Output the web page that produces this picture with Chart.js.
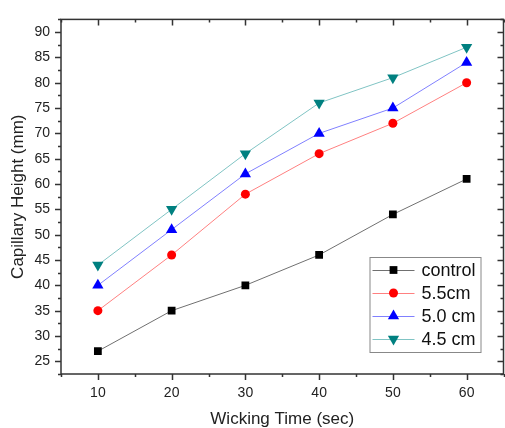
<!DOCTYPE html>
<html>
<head>
<meta charset="utf-8">
<script src="https://cdn.jsdelivr.net/npm/chart.js@4"></script>
<style>
  html, body { margin: 0; padding: 0; background: #fff; overflow: hidden; }
  #wrap { width: 510px; height: 428px; }
</style>
</head>
<body>
<div id="wrap"><canvas id="chart" width="510" height="428"></canvas></div>
<script>
// wicking time (sec)
const times = [10, 20, 30, 40, 50, 60];
// capillary height (mm)
const control = [27, 35, 40, 46, 54, 61];
const h55 = [35, 46, 58, 66, 72, 80];
const h50 = [40, 51, 62, 70, 75, 84];
const h45 = [44, 55, 66, 76, 81, 87];
const xTicks = [10, 20, 30, 40, 50, 60];
const yTicks = [25, 30, 35, 40, 45, 50, 55, 60, 65, 70, 75, 80, 85, 90];

function pts(arr) {
    return arr.map(function (v, i) { return { x: times[i], y: v }; });
}

function series(label, data, line, marker, style, radius, rot) {
    return {
        label: label,
        data: pts(data),
        showLine: true,
        borderColor: line,
        borderWidth: 1,
        pointStyle: style,
        pointRadius: radius,
        pointRotation: rot,
        pointBackgroundColor: marker,
        pointBorderColor: marker,
        pointBorderWidth: 0
    };
}

const axisColor = '#333';

// frame, outward ticks on left/bottom, inward ticks on top/right
const framePlugin = {
    id: 'frame',
    beforeDatasetsDraw: function (chart) {
        const ctx = chart.ctx;
        const a = chart.chartArea;
        const xs = chart.scales.x, ys = chart.scales.y;
        ctx.save();
        ctx.strokeStyle = axisColor;
        ctx.lineWidth = 1.5;
        ctx.strokeRect(a.left, a.top, a.right - a.left, a.bottom - a.top);
        ctx.beginPath();
        for (let v = 5; v <= 65; v += 5) {
            const px = Math.round(xs.getPixelForValue(v)) + 0.5;
            const major = v % 10 === 0;
            const len = major ? 6 : 3;
            ctx.moveTo(px, a.bottom); ctx.lineTo(px, a.bottom + len);
            ctx.moveTo(px, a.top); ctx.lineTo(px, a.top + len);
        }
        for (let v = 22.5; v <= 92.5; v += 2.5) {
            const py = Math.round(ys.getPixelForValue(v)) + 0.5;
            const major = v % 5 === 0;
            const len = major ? 6 : 3;
            ctx.moveTo(a.left, py); ctx.lineTo(a.left - len, py);
            ctx.moveTo(a.right, py); ctx.lineTo(a.right - len, py);
        }
        ctx.stroke();
        ctx.restore();
    }
};

// legend box inside the plot
const legendPlugin = {
    id: 'boxLegend',
    afterDatasetsDraw: function (chart) {
        const ctx = chart.ctx;
        const a = chart.chartArea;
        const left = a.right - 134, top = a.bottom - 117;
        const w = 111, rowH = 23;
        const sets = chart.data.datasets;
        ctx.save();
        ctx.fillStyle = '#fff';
        ctx.fillRect(left, top, w, rowH * sets.length + 3);
        ctx.strokeStyle = '#888';
        ctx.lineWidth = 1;
        ctx.strokeRect(left + 0.5, top + 0.5, w, rowH * sets.length + 3);
        ctx.font = '18px "Liberation Sans", Arial, sans-serif';
        ctx.textBaseline = 'middle';
        sets.forEach(function (ds, i) {
            const cy = top + 13 + i * rowH;
            ctx.strokeStyle = ds.borderColor;
            ctx.lineWidth = 1;
            ctx.beginPath();
            ctx.moveTo(left + 3, cy + 0.5); ctx.lineTo(left + 45, cy + 0.5);
            ctx.stroke();
            ctx.fillStyle = ds.pointBackgroundColor;
            ctx.strokeStyle = ds.pointBorderColor;
            Chart.helpers.drawPoint(ctx, {
                pointStyle: ds.pointStyle,
                rotation: ds.pointRotation,
                radius: ds.pointRadius,
                borderWidth: 0
            }, left + 24, cy);
            ctx.fillStyle = '#111';
            ctx.fillText(ds.label, left + 52, cy + 1);
        });
        ctx.restore();
    }
};

new Chart(document.getElementById('chart'), {
    type: 'scatter',
    data: {
        datasets: [
            series('control', control, '#707070', '#000000', 'rect', 5.5, 0),
            series('5.5cm', h55, '#ff8080', '#ff0000', 'circle', 4.5, 0),
            series('5.0 cm', h50, '#8080ff', '#0000ff', 'triangle', 6.5, 0),
            series('4.5 cm', h45, '#80c4c4', '#008080', 'triangle', 6.5, 180)
        ]
    },
    options: {
        responsive: false,
        animation: false,
        layout: { padding: { top: 12, right: 4, bottom: 0, left: 0 } },
        plugins: { legend: { display: false }, tooltip: { enabled: false } },
        scales: {
            x: {
                type: 'linear',
                min: 5,
                max: 65,
                afterBuildTicks: function (s) { s.ticks = xTicks.map(function (v) { return { value: v }; }); },
                afterFit: function (s) { s.height = 54; },
                grid: { display: false, drawTicks: false },
                border: { display: false },
                ticks: { padding: 11, color: '#222', font: { family: '"Liberation Sans", Arial', size: 14 } },
                title: {
                    display: true,
                    text: 'Wicking Time (sec)',
                    color: '#222',
                    padding: { top: 0, bottom: -2 },
                    font: { family: '"Liberation Sans", Arial', size: 17 }
                }
            },
            y: {
                type: 'linear',
                min: 22.5,
                max: 92.5,
                afterBuildTicks: function (s) { s.ticks = yTicks.map(function (v) { return { value: v }; }); },
                afterFit: function (s) { s.width = 61; },
                grid: { display: false, drawTicks: false },
                border: { display: false },
                ticks: { padding: 11, color: '#222', font: { family: '"Liberation Sans", Arial', size: 14 } },
                title: {
                    display: true,
                    text: 'Capillary Height (mm)',
                    color: '#222',
                    padding: { top: 8, bottom: 0 },
                    font: { family: '"Liberation Sans", Arial', size: 17 }
                }
            }
        }
    },
    plugins: [framePlugin, legendPlugin]
});
</script>
</body>
</html>
